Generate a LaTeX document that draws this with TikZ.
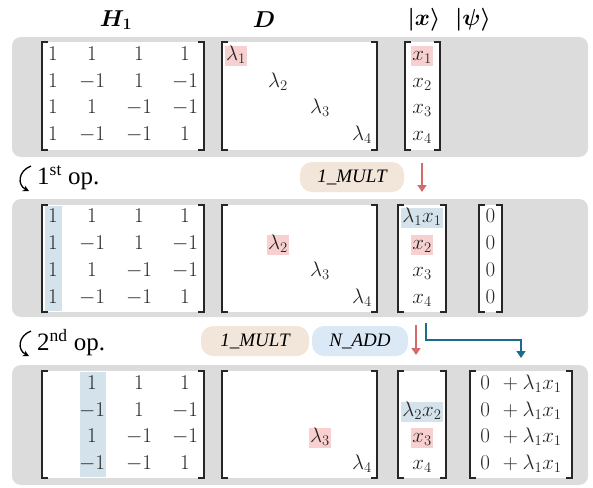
\RequirePackage{fix-cm}
\documentclass[tikz,border=0pt]{standalone}
\usepackage{fontspec}
\usepackage{bm}
\usetikzlibrary{arrows.meta}
\newfontfamily\tms{Liberation Serif}
\definecolor{panelgray}{HTML}{DCDCDC}
\definecolor{hlred}{HTML}{F8D0D0}
\definecolor{hlblue}{HTML}{D4E3EB}
\definecolor{pillbeige}{HTML}{F2E5DA}
\definecolor{pillblue}{HTML}{DBE8F5}
\definecolor{arrowred}{HTML}{D46A6A}
\definecolor{arrowteal}{HTML}{1F6B8E}
\newcommand\matfont{\fontsize{21}{24}\selectfont}
\newcommand\hdrfont{\fontsize{23}{27}\selectfont}
\newcommand\pillfont{\tms\itshape\fontsize{19}{22}\selectfont}
\newcommand\oplfont{\tms\fontsize{25}{28}\selectfont}
\newcommand\mbrk[4]{%
  \draw[brk] (#1+6,#3) -- (#1,#3) -- (#1,#4) -- (#1+6,#4);
  \draw[brk] (#2-6,#3) -- (#2,#3) -- (#2,#4) -- (#2-6,#4);}
\begin{document}
\begin{tikzpicture}[x=1pt,y=-1pt,
  panel/.style={fill=panelgray, rounded corners=9pt},
  whitebg/.style={fill=white},
  ent/.style={inner xsep=1pt, inner ysep=1pt, font=\matfont, text height=13.5pt, text depth=4.5pt, text=black!85},
  hred/.style={ent, fill=hlred},
  hblue/.style={ent, fill=hlblue},
  colhl/.style={fill=hlblue},
  brk/.style={line width=1.3pt, draw=black!85},
  pill/.style={rounded corners=12pt, minimum height=30pt, font=\pillfont, inner sep=0pt},
  hdr/.style={font=\hdrfont},
  oplbl/.style={font=\oplfont, anchor=west, inner sep=0pt},
  redarrow/.style={draw=arrowred, line width=1.4pt, -{Triangle[width=9pt,length=7pt]}},
  tealarrow/.style={draw=arrowteal, line width=1.4pt, -{Triangle[width=9pt,length=7pt]}},
  curvearrow/.style={line width=1.3pt, -{Stealth[length=6pt,width=6pt]}}
]
\useasboundingbox (0,0) rectangle (593,487);

% headers
\node[hdr] (hH) at (116,20) {$\bm{H}_{\bm{1}}$};
\node[hdr] (hD) at (264,20) {$\bm{D}$};
\node[hdr] (hX) at (424,20) {$\bm{|x\rangle}$};
\node[hdr] (hP) at (473,20) {$\bm{|\psi\rangle}$};

% ---------------- panel 1
\fill[panel] (12,37) rectangle (588,157);
\fill[whitebg] (42,42) rectangle (204,150);
\fill[whitebg] (222,42) rectangle (377,150);
\fill[whitebg] (405,42) rectangle (440,150);
\mbrk{42}{204}{42}{150}
\mbrk{222}{377}{42}{150}
\mbrk{405}{440}{42}{150}
\foreach \rowvals [count=\r] in {{1,1,1,1},{1,-1,1,-1},{1,1,-1,-1},{1,-1,-1,1}}{
  \foreach \v [count=\c] in \rowvals {
    \pgfmathsetmacro\xx{{53,92,139,185}[\c-1]}
    \pgfmathsetmacro\yy{56+(\r-1)*26.5}
    \node[ent] (pa-h-\r-\c) at (\xx,\yy) {$\v$};
  }
}
\node[hred] (pa-l1) at (236,56) {$\lambda_1$};
\node[ent] (pa-l2) at (278,82.5) {$\lambda_2$};
\node[ent] (pa-l3) at (320,109) {$\lambda_3$};
\node[ent] (pa-l4) at (362,135.5) {$\lambda_4$};
\node[hred] (pa-x1) at (422,56) {$x_1$};
\node[ent] (pa-x2) at (422,82.5) {$x_2$};
\node[ent] (pa-x3) at (422,109) {$x_3$};
\node[ent] (pa-x4) at (422,135.5) {$x_4$};

% ---------------- op 1
\node[oplbl] (op1) at (37,178) {1\textsuperscript{st} op.};
\coordinate (c1s) at (31,166);
\coordinate (c1e) at (29,191);
\draw[curvearrow] (c1s) .. controls (18,171) and (17,185) .. (c1e);
\node[pill, fill=pillbeige, minimum width=104pt] (m1) at (352,177) {1\_MULT};
\coordinate (r1s) at (422,163);
\coordinate (r1e) at (422,192);
\draw[redarrow] (r1s) -- (r1e);

% ---------------- panel 2
\fill[panel] (12,199) rectangle (588,317);
\fill[whitebg] (42,205) rectangle (204,312);
\fill[whitebg] (222,205) rectangle (377,312);
\fill[whitebg] (398,205) rectangle (446,312);
\fill[whitebg] (479,205) rectangle (502,312);
\fill[colhl] (45,206) rectangle (62,311);
\mbrk{42}{204}{205}{312}
\mbrk{222}{377}{205}{312}
\mbrk{398}{446}{205}{312}
\mbrk{479}{502}{205}{312}
\foreach \rowvals [count=\r] in {{1,1,1,1},{1,-1,1,-1},{1,1,-1,-1},{1,-1,-1,1}}{
  \foreach \v [count=\c] in \rowvals {
    \pgfmathsetmacro\xx{{53,92,139,185}[\c-1]}
    \pgfmathsetmacro\yy{218+(\r-1)*27}
    \node[ent] (pb-h-\r-\c) at (\xx,\yy) {$\v$};
  }
}
\node[hred] (pb-l2) at (278,245) {$\lambda_2$};
\node[ent] (pb-l3) at (320,272) {$\lambda_3$};
\node[ent] (pb-l4) at (362,299) {$\lambda_4$};
\node[hblue] (pb-x1) at (422,218) {$\lambda_1x_1$};
\node[hred] (pb-x2) at (422,245) {$x_2$};
\node[ent] (pb-x3) at (422,272) {$x_3$};
\node[ent] (pb-x4) at (422,299) {$x_4$};
\foreach \r in {1,2,3,4}{
  \pgfmathsetmacro\yy{218+(\r-1)*27}
  \node[ent] (pb-p-\r) at (490.5,\yy) {$0$};
}

% ---------------- op 2
\node[oplbl] (op2) at (37,343) {2\textsuperscript{nd} op.};
\coordinate (c2s) at (31,331);
\coordinate (c2e) at (29,356);
\draw[curvearrow] (c2s) .. controls (18,336) and (17,350) .. (c2e);
\node[pill, fill=pillbeige, minimum width=108pt] (m2) at (255,341) {1\_MULT};
\node[pill, fill=pillblue, minimum width=96pt] (n2) at (360,341) {N\_ADD};
\coordinate (r2s) at (416,325);
\coordinate (r2e) at (416,355);
\draw[redarrow] (r2s) -- (r2e);
\coordinate (t2s) at (426,323);
\coordinate (t2a) at (426,340);
\coordinate (t2b) at (521,340);
\coordinate (t2e) at (521,358);
\draw[tealarrow] (t2s) -- (t2a) -- (t2b) -- (t2e);

% ---------------- panel 3
\fill[panel] (12,365) rectangle (588,485);
\fill[whitebg] (42,371) rectangle (204,478);
\fill[whitebg] (222,371) rectangle (377,478);
\fill[whitebg] (398,371) rectangle (446,478);
\fill[whitebg] (470,371) rectangle (572,478);
\fill[colhl] (80,372) rectangle (106,477);
\mbrk{42}{204}{371}{478}
\mbrk{222}{377}{371}{478}
\mbrk{398}{446}{371}{478}
\mbrk{470}{572}{371}{478}
\foreach \rowvals [count=\r] in {{1,1,1,1},{1,-1,1,-1},{1,1,-1,-1},{1,-1,-1,1}}{
  \foreach \v [count=\c] in \rowvals {
    \ifnum\c>1
    \pgfmathsetmacro\xx{{53,92,139,185}[\c-1]}
    \pgfmathsetmacro\yy{385+(\r-1)*26.5}
    \node[ent] (pc-h-\r-\c) at (\xx,\yy) {$\v$};
    \fi
  }
}
\node[hred] (pc-l3) at (320,438) {$\lambda_3$};
\node[ent] (pc-l4) at (362,464.5) {$\lambda_4$};
\node[hblue] (pc-x2) at (422,411.5) {$\lambda_2x_2$};
\node[hred] (pc-x3) at (422,438) {$x_3$};
\node[ent] (pc-x4) at (422,464.5) {$x_4$};
\foreach \r in {1,2,3,4}{
  \pgfmathsetmacro\yy{385+(\r-1)*26.5}
  \node[ent] (pc-p-\r) at (521,\yy) {$0\mskip7mu+\lambda_1x_1$};
}
\end{tikzpicture}
\end{document}
